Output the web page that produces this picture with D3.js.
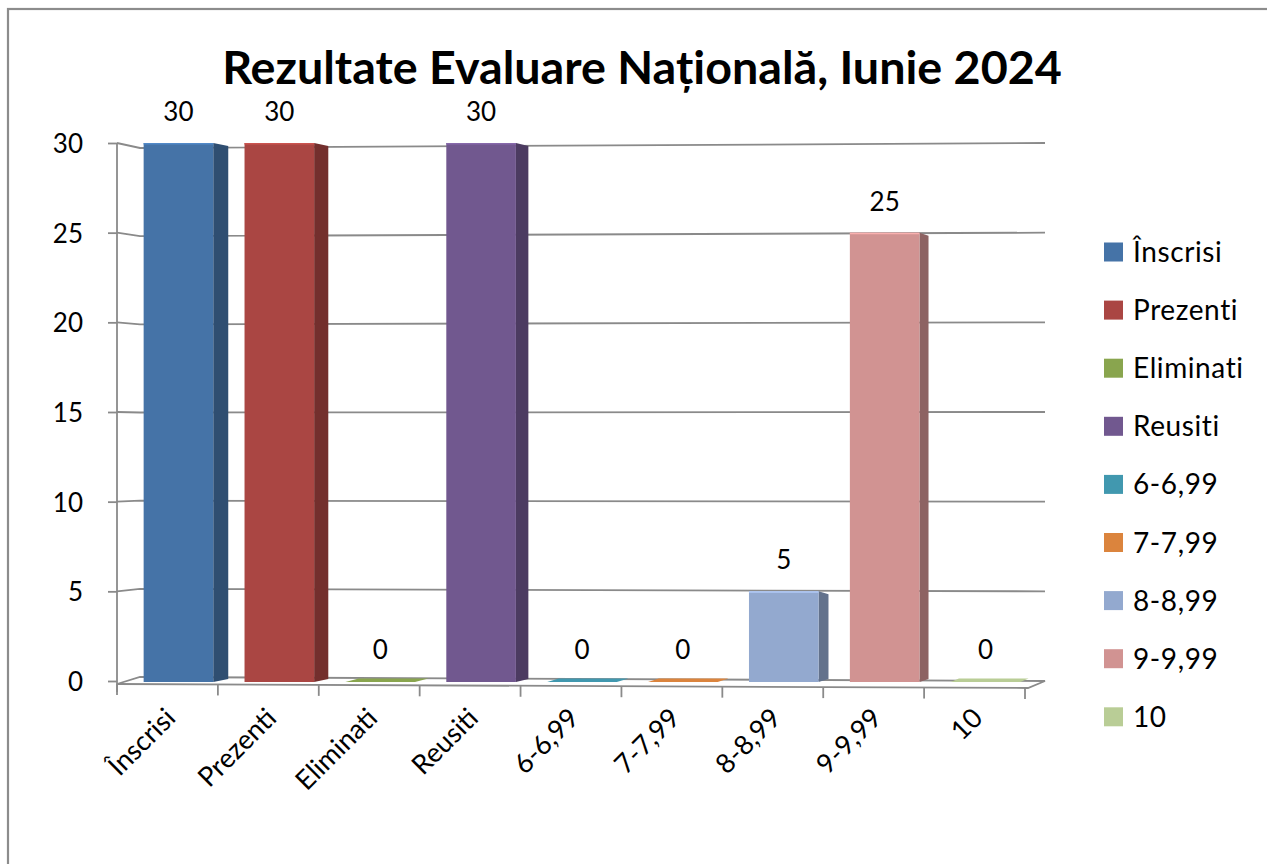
<!DOCTYPE html>
<html>
<head>
<meta charset="utf-8">
<script src="https://cdn.jsdelivr.net/npm/d3@7"></script>
<style>
  html, body { margin: 0; padding: 0; background: #fff; }
  svg { display: block; }
  text { font-family: Lato, "Open Sans", sans-serif; fill: #000; }
</style>
</head>
<body>
<svg id="chart" width="1267" height="864"></svg>
<script>
const title = "Rezultate Evaluare Națională, Iunie 2024";
const categories = ["Înscrisi", "Prezenti", "Eliminati", "Reusiti", "6-6,99", "7-7,99", "8-8,99", "9-9,99", "10"];
const values = [30, 30, 0, 30, 0, 0, 5, 25, 0];
const colors = ["#4573A7", "#AA4643", "#89A54E", "#71588F", "#4198AF", "#DB843D", "#93A9CF", "#D19392", "#B9CD96"];
const yTicks = [0, 5, 10, 15, 20, 25, 30];

const svg = d3.select("#chart");

// outer frame
svg.append("rect").attr("x", 8).attr("y", 9).attr("width", 1300).attr("height", 900)
  .attr("fill", "none").attr("stroke", "#8c8c8c").attr("stroke-width", 2.2);

// title
const t = svg.append("text").attr("x", 642).attr("y", 84).attr("text-anchor", "middle")
  .attr("font-weight", "bold").attr("font-size", 38).text(title);
const tw = t.node().getComputedTextLength();
t.attr("font-size", 38 * 840 / tw);

const y = d3.scaleLinear().domain([0, 30]).range([681, 143]);
const yBackL = d3.scaleLinear().domain([0, 30]).range([677, 148]);
const x = d3.scaleBand().domain(categories).range([117, 1025]);
const xL = 117, xB = 140, xR = 1045;

const grid = svg.append("g").attr("stroke", "#8a8a8a").attr("stroke-width", 1.8).attr("fill", "none");
// gridlines (side wall + back wall)
yTicks.filter(v => v > 0).forEach(v => {
  grid.append("path").attr("d", `M${xL},${y(v)}L${xB},${yBackL(v)}L${xR},${y(v)}`);
});
// floor
const frontY = d3.scaleLinear().domain([117, 1028]).range([684, 688]);
grid.append("path").attr("d", `M${xL},${frontY(xL)}L${xB},${yBackL(0)}L${xR},${y(0)}L1028,${frontY(1028)}Z`)
  .attr("fill", "#fff");

// y axis
const yAxis = d3.axisLeft(y).tickValues(yTicks).tickSize(9).tickPadding(25);
const ya = svg.append("g").attr("transform", `translate(${xL},0)`).call(yAxis);
ya.select(".domain").remove();
ya.selectAll(".tick line").attr("stroke", "#8a8a8a").attr("stroke-width", 1.8);
ya.selectAll(".tick text").attr("font-size", 26).attr("font-family", "Lato, sans-serif").attr("dy", "0.36em");
svg.append("line").attr("x1", xL).attr("x2", xL).attr("y1", y(30)).attr("y2", 692)
  .attr("stroke", "#8a8a8a").attr("stroke-width", 1.8);

// x ticks at band boundaries
const bounds = categories.map(c => x(c)).concat([x.range()[1]]);
bounds.forEach(bx => {
  svg.append("line").attr("x1", bx).attr("x2", bx).attr("y1", frontY(bx)).attr("y2", frontY(bx) + 11)
    .attr("stroke", "#8a8a8a").attr("stroke-width", 1.8);
});

// bars
const bw = x.bandwidth() * 0.69;
const bars = svg.append("g");
categories.forEach((c, i) => {
  const v = values[i];
  const cx = x(c) + x.bandwidth() / 2 + 11;
  const x0 = cx - bw / 2, x1 = cx + bw / 2;
  const d = 15 - i * 0.85;
  const col = d3.color(colors[i]);
  const dark = col.darker(1.1);
  const top = y(v), bot = y(0) + 1;
  if (v > 0) {
    bars.append("path").attr("d", `M${x1},${top}L${x1 + d},${top + 3}L${x1 + d},${bot - 3}L${x1},${bot}Z`).attr("fill", dark);
    bars.append("rect").attr("x", x0).attr("y", top).attr("width", bw).attr("height", bot - top).attr("fill", col);
    bars.append("line").attr("x1", x0).attr("x2", x1).attr("y1", top + 0.75).attr("y2", top + 0.75)
      .attr("stroke", col.brighter(0.5)).attr("stroke-width", 1.5);
  } else {
    bars.append("path").attr("d", `M${x0},${bot}L${x1},${bot}L${x1 + d},${bot - 3.5}L${x0 + d},${bot - 3.5}Z`).attr("fill", col);
  }
  svg.append("text").attr("x", cx).attr("y", top - 22).attr("text-anchor", "middle")
    .attr("font-size", 26).text(v);
  // category label
  const lx = x(c) + x.bandwidth() / 2 + 3, ly = 713;
  svg.append("text").attr("transform", `translate(${lx},${ly}) rotate(-45)`)
    .attr("text-anchor", "end").attr("font-size", 27).attr("dy", "0.35em").text(c);
});

// legend
const lg = svg.append("g");
categories.forEach((c, i) => {
  const ly = 252 + i * 58.1;
  lg.append("rect").attr("x", 1104).attr("y", ly - 9.5).attr("width", 19).attr("height", 19).attr("fill", colors[i]);
  lg.append("text").attr("x", 1133).attr("y", ly).attr("dy", "0.36em").attr("font-size", 28)
    .attr("letter-spacing", 0.6).text(c);
});
</script>
</body>
</html>
